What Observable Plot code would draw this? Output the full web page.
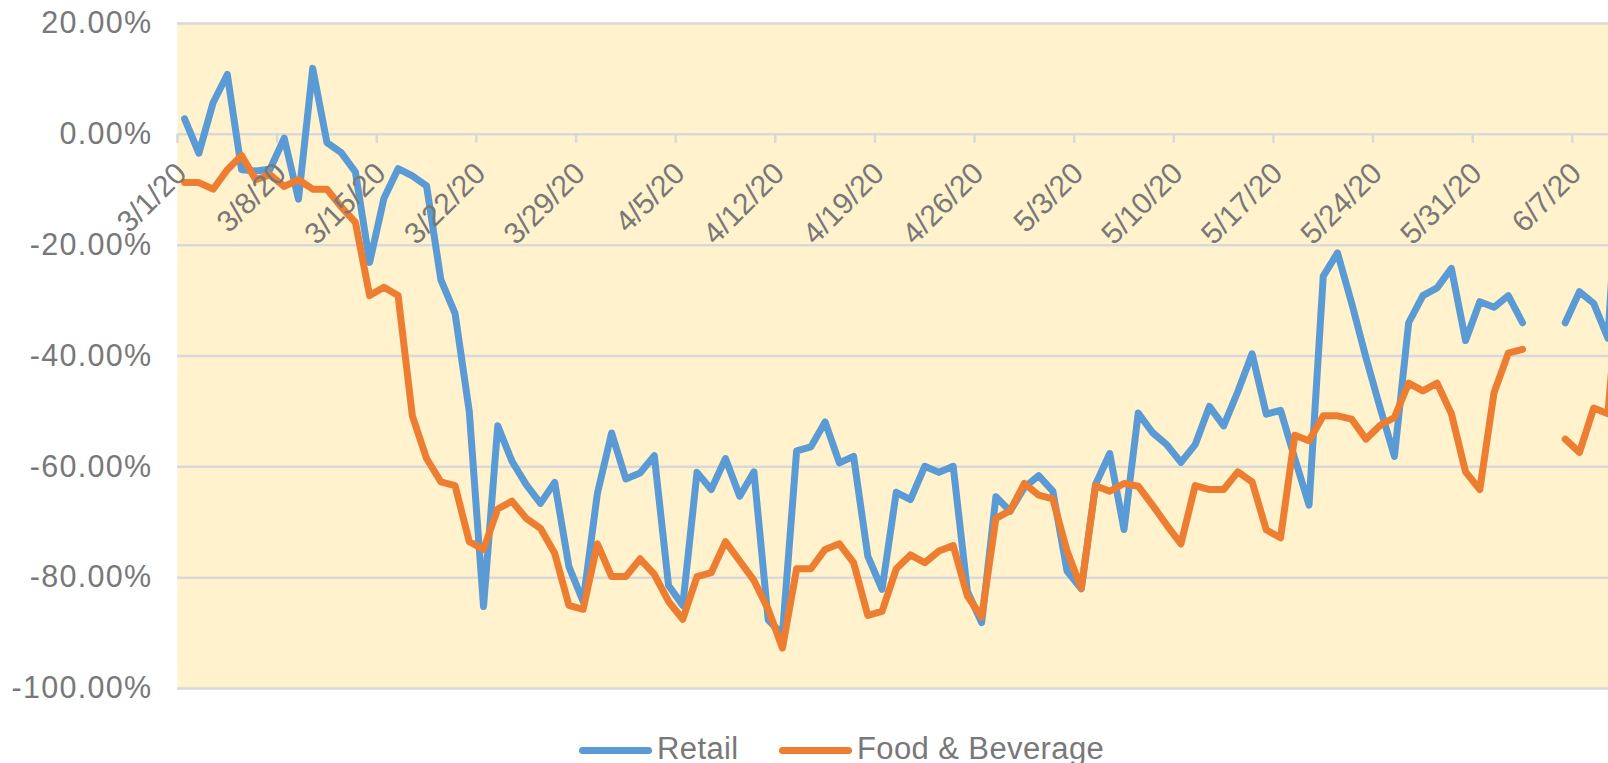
<!DOCTYPE html>
<html>
<head>
<meta charset="utf-8">
<script src="https://cdn.jsdelivr.net/npm/d3@7"></script>
<script src="https://cdn.jsdelivr.net/npm/@observablehq/plot@0.6"></script>
<style>
  html, body { margin: 0; padding: 0; background: #ffffff; overflow: hidden; width: 1608px; height: 763px; }
  #chart { position: relative; width: 1608px; height: 763px; }
  .leg { position: absolute; top: 729px; height: 40px; display: flex; align-items: center;
         font-family: "Liberation Sans", Arial, sans-serif; font-size: 31px; line-height: 40px;
         color: #787878; white-space: nowrap; letter-spacing: 0.4px; }
  .leg .sw { display: inline-block; width: 73px; height: 7px; border-radius: 3.5px; margin-right: 5px; position: relative; top: 1px; }
</style>
</head>
<body>
<div id="chart"></div>
<script>
// ---- data (percent change, one value per day starting 3/1/20) ----
const startDate = "2020-03-01";
const seriesNames = ["Retail", "Food & Beverage"];
const seriesColors = ["#5B9BD5", "#ED7D31"];
const retail = [
  2.8, -3.4, 5.7, 10.8, -6.4, -6.6, -6.3, -0.7, -11.7, 11.9,
  -1.5, -3.3, -6.8, -23.1, -11.6, -6.2, -7.5, -9.3, -26.2, -32.3,
  -50.0, -85.2, -52.6, -59.0, -63.2, -66.6, -62.8, -78.0, -84.3, -64.8,
  -53.9, -62.2, -61.1, -58.0, -81.4, -85.0, -61.0, -64.1, -58.5, -65.3,
  -60.9, -87.6, -90.3, -57.1, -56.4, -51.9, -59.3, -58.1, -76.1, -82.1,
  -64.6, -65.9, -59.9, -61.0, -59.9, -82.5, -88.1, -65.4, -68.0, -63.7,
  -61.6, -64.4, -78.8, -82.0, -63.2, -57.6, -71.3, -50.3, -53.8, -56.0,
  -59.2, -56.0, -49.1, -52.6, -46.4, -39.6, -50.5, -49.8, -58.5, -66.9,
  -25.6, -21.4, -30.5, -40.3, -49.4, -58.1, -34.0, -29.1, -27.7, -24.2,
  -37.2, -30.2, -31.2, -29.1, -34.0, null, null, -34.0, -28.4, -30.5,
  -36.8, 5.0
];
const foodBeverage = [
  -8.7, -8.7, -9.9, -6.4, -3.8, -8.2, -7.3, -9.4, -8.2, -9.9,
  -9.9, -13.1, -15.9, -29.1, -27.6, -29.1, -50.8, -58.5, -62.7, -63.4,
  -73.5, -74.9, -67.6, -66.2, -69.3, -71.1, -75.6, -85.0, -85.7, -73.9,
  -79.8, -79.8, -76.6, -79.4, -84.3, -87.5, -79.8, -79.1, -73.5, -77.0,
  -80.5, -85.7, -92.7, -78.4, -78.4, -74.9, -73.9, -77.3, -86.8, -86.1,
  -78.4, -75.9, -77.3, -75.2, -74.2, -83.3, -87.1, -69.3, -67.9, -63.0,
  -65.1, -65.8, -75.2, -81.9, -63.4, -64.4, -63.0, -63.5, -66.9, -70.5,
  -73.9, -63.4, -64.1, -64.1, -60.9, -62.7, -71.4, -72.8, -54.3, -55.3,
  -50.8, -50.8, -51.4, -55.0, -52.5, -51.1, -44.9, -46.3, -44.9, -50.4,
  -60.9, -64.1, -46.6, -39.5, -38.8, null, null, -55.0, -57.4, -49.4,
  -50.4, -20.0
];
const yTicks = [20, 0, -20, -40, -60, -80, -100];
const xTickLabels = ["3/1/20", "3/8/20", "3/15/20", "3/22/20", "3/29/20", "4/5/20", "4/12/20",
  "4/19/20", "4/26/20", "5/3/20", "5/10/20", "5/17/20", "5/24/20", "5/31/20", "6/7/20"];

// ---- build table ----
const DAY = 864e5;
const t0 = Date.parse(startDate + "T00:00:00Z");
const pointDate = i => new Date(t0 + i * DAY + DAY / 2); // points sit mid-day between ticks
const rows = [];
[retail, foodBeverage].forEach((arr, s) => {
  arr.forEach((v, i) => rows.push({ date: pointDate(i), value: v, series: seriesNames[s] }));
});
const tickDates = xTickLabels.map(s => {
  const [m, d, y] = s.split("/").map(Number);
  return new Date(Date.UTC(2000 + y, m - 1, d));
});

// ---- layout ----
const W = 1608, H = 700;
const mLeft = 177, mTop = 23, mBottom = 12;
const pxPerDay = 14.233;
const xEnd = new Date(t0 + ((W - mLeft) / pxPerDay) * DAY);
const grid = "#d9d9d9";
const textColor = "#787878";

const chart = Plot.plot({
  width: W,
  height: H,
  marginLeft: mLeft,
  marginRight: 0,
  marginTop: mTop,
  marginBottom: mBottom,
  style: { fontFamily: "'Liberation Sans', Arial, sans-serif", background: "transparent", overflow: "visible" },
  x: { type: "utc", domain: [new Date(t0), xEnd], axis: null },
  y: { domain: [-100, 20], axis: null },
  color: { domain: seriesNames, range: seriesColors },
  marks: [
    Plot.frame({ fill: "#FFF2CC", stroke: null }),
    Plot.ruleY(yTicks, { y: d => d, stroke: grid, strokeWidth: 2.5 }),
    Plot.ruleX(tickDates, { x: d => d, y1: d => 0, y2: d => 0, insetBottom: -9, stroke: grid, strokeWidth: 2.5 }),
    Plot.line(rows, {
      x: "date", y: "value", z: "series", stroke: "series",
      strokeWidth: 7, strokeLinejoin: "round", strokeLinecap: "round", clip: true
    }),
    Plot.text(yTicks, {
      y: d => d, frameAnchor: "left", textAnchor: "end", dx: -25,
      text: d => d.toFixed(2) + "%", fontSize: 30.5, fill: textColor
    }),
    Plot.text(tickDates, {
      x: d => d, y: d => 0, text: (d, i) => xTickLabels[i],
      rotate: -45, textAnchor: "end", dx: 4, dy: 34, fontSize: 30, fill: textColor
    })
  ]
});

const textGroups = chart.querySelectorAll('g[aria-label="text"]');
if (textGroups[0]) textGroups[0].setAttribute("letter-spacing", "1.3");

const host = document.getElementById("chart");
host.appendChild(chart);

// ---- legend (below the SVG) ----
const legendLeft = [579, 779];
seriesNames.forEach((name, i) => {
  const item = document.createElement("div");
  item.className = "leg";
  item.style.left = legendLeft[i] + "px";
  const sw = document.createElement("span");
  sw.className = "sw";
  sw.style.background = seriesColors[i];
  const label = document.createElement("span");
  label.textContent = name;
  item.appendChild(sw);
  item.appendChild(label);
  host.appendChild(item);
});
</script>
</body>
</html>
